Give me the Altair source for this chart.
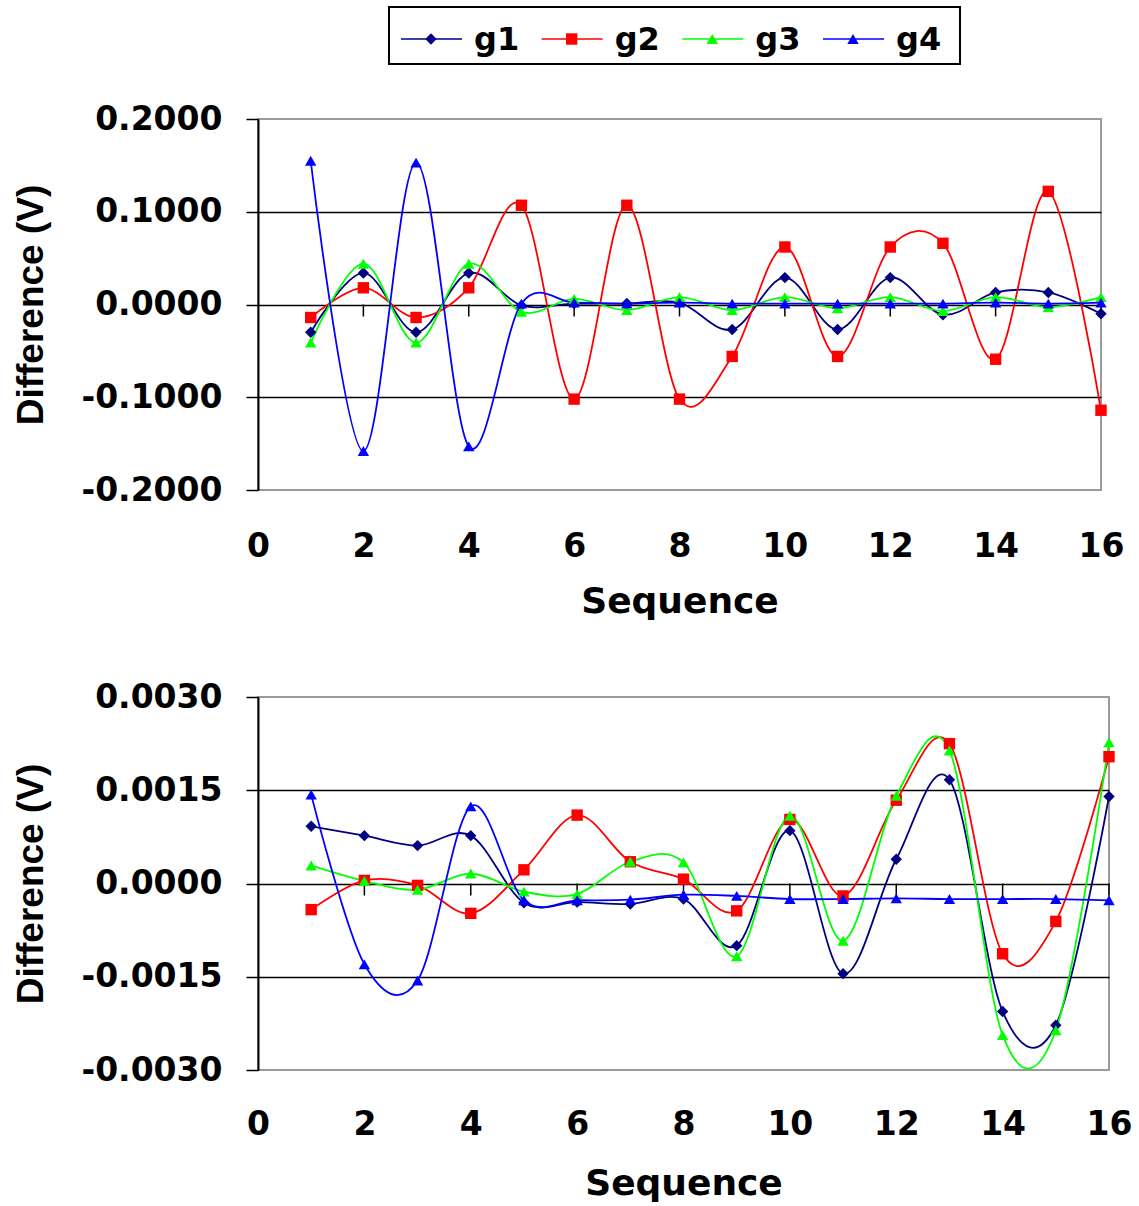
import altair as alt
import pandas as pd

# ---------------- data ----------------
series_names = ["g1", "g2", "g3", "g4"]
series_colors = ["#000080", "#FF0000", "#00FF00", "#0000FF"]
series_shapes = ["diamond", "square", "triangle-up", "triangle-up"]
marker_sizes = [210, 165, 290, 290]
legend_marker_sizes = [130, 130, 190, 190]

sequence = list(range(1, 17))
x_ticks = [0, 2, 4, 6, 8, 10, 12, 14, 16]

g1_top = [-0.030, 0.034, -0.030, 0.034, -0.001, 0.001, 0.001, 0.002,
          -0.027, 0.029, -0.027, 0.029, -0.011, 0.013, 0.013, -0.010]
g2_top = [-0.014, 0.018, -0.014, 0.018, 0.107, -0.102, 0.107, -0.102,
          -0.056, 0.062, -0.056, 0.062, 0.066, -0.059, 0.122, -0.114]
g3_top = [-0.041, 0.044, -0.041, 0.044, -0.008, 0.006, -0.006, 0.008,
          -0.006, 0.008, -0.004, 0.008, -0.007, 0.008, -0.003, 0.008]
g4_top = [0.155, -0.158, 0.153, -0.153, 0.001, 0.002, 0.001, 0.002,
          0.001, 0.001, 0.001, 0.001, 0.001, 0.002, 0.001, 0.002]

g1_bot = [0.00092, 0.00077, 0.00061, 0.00077, -0.00031, -0.00030, -0.00033, -0.00025,
          -0.00100, 0.00085, -0.00145, 0.00039, 0.00167, -0.00206, -0.00228, 0.00140]
g2_bot = [-0.00042, 0.00005, -0.00003, -0.00048, 0.00022, 0.00110, 0.00035, 0.00007,
          -0.00044, 0.00103, -0.00020, 0.00134, 0.00225, -0.00113, -0.00061, 0.00204]
g3_bot = [0.00029, 0.00004, -0.00010, 0.00016, -0.00013, -0.00017, 0.00035, 0.00034,
          -0.00117, 0.00109, -0.00092, 0.00141, 0.00214, -0.00244, -0.00236, 0.00227]
g4_bot = [0.00143, -0.00130, -0.00156, 0.00124, -0.00027, -0.00027, -0.00026, -0.00018,
          -0.00020, -0.00025, -0.00025, -0.00024, -0.00025, -0.00025, -0.00025, -0.00027]

top_y_ticks = [-0.2, -0.1, 0.0, 0.1, 0.2]
bot_y_ticks = [-0.003, -0.0015, 0.0, 0.0015, 0.003]


def long_df(cols):
    rows = []
    for name, vals in zip(series_names, cols):
        for xv, yv in zip(sequence, vals):
            rows.append({"x": xv, "value": yv, "series": name})
    return pd.DataFrame(rows)


top_df = long_df([g1_top, g2_top, g3_top, g4_top])
bot_df = long_df([g1_bot, g2_bot, g3_bot, g4_bot])
tick_df = pd.DataFrame({"x": x_ticks[1:], "value": [0.0] * (len(x_ticks) - 1)})

LABEL_FONT = "DejaVu Sans"
TITLE_FONT_Y = "Liberation Sans"

color_scale = alt.Scale(domain=series_names, range=series_colors)
shape_scale = alt.Scale(domain=series_names, range=series_shapes)


def panel(df, ydom, yvals, thr, width, height, x_label_pad, x_title_pad):
    x_enc = alt.X(
        "x:Q",
        scale=alt.Scale(domain=[0, 16], nice=False, zero=False),
        axis=alt.Axis(
            values=x_ticks, title="Sequence", grid=False, domain=False,
            ticks=False, tickSize=0, labelPadding=x_label_pad,
            labelFont=LABEL_FONT, labelFontWeight="bold", labelFontSize=33,
            labelColor="black", labelFlush=False,
            titleFont=LABEL_FONT, titleFontWeight="bold", titleFontSize=36,
            titleColor="black", titlePadding=x_title_pad,
        ),
    )
    y_enc = alt.Y(
        "value:Q",
        scale=alt.Scale(domain=ydom, nice=False, zero=False),
        axis=alt.Axis(
            values=yvals, title="Difference (V)",
            labelExpr="(datum.value < 0 ? '-' : '') + format(abs(datum.value), '.4f')",
            grid=True, gridColor="black", gridWidth=1.5,
            gridOpacity={"condition": {"test": f"abs(datum.value) > {thr}", "value": 0}, "value": 1},
            domain=True, domainColor="black", domainWidth=2,
            ticks=True, tickSize=12, tickColor="black", tickWidth=1.5,
            labelPadding=24, labelFont=LABEL_FONT, labelFontWeight="bold",
            labelFontSize=33, labelColor="black", labelFlush=False,
            titleFont=TITLE_FONT_Y, titleFontWeight="bold", titleFontSize=37,
            titleColor="black", titlePadding=30,
        ),
    )
    ticks = alt.Chart(tick_df).mark_rule(color="black", strokeWidth=1.5, y2Offset=12).encode(
        x=x_enc, y=y_enc, y2="value:Q"
    )
    lines = alt.Chart(df).mark_line(interpolate="cardinal", strokeWidth=1.8).encode(
        x=x_enc, y=y_enc,
        color=alt.Color("series:N", scale=color_scale, legend=None),
        detail="series:N",
    )
    points = alt.Chart(df).mark_point(filled=True, opacity=1).encode(
        x=x_enc, y=y_enc,
        color=alt.Color("series:N", scale=color_scale, legend=None),
        shape=alt.Shape("series:N", scale=shape_scale, legend=None),
        size=alt.Size("series:N", scale=alt.Scale(domain=series_names, range=marker_sizes), legend=None),
    )
    return alt.layer(ticks, lines, points).properties(width=width, height=height)


top = panel(top_df, [-0.2, 0.2], top_y_ticks, 0.15, 843, 371, 40, 21)
bottom = panel(bot_df, [-0.003, 0.003], bot_y_ticks, 0.0025, 851, 373, 38, 25)

# ---------------- legend ----------------
leg_df = pd.DataFrame({"series": series_names})
leg_x = alt.X("series:N", scale=alt.Scale(type="point", domain=series_names, range=[173, 595], padding=0), axis=None)
leg_color = alt.Color("series:N", scale=color_scale, legend=None)

box = alt.Chart(alt.Data(values=[{}])).mark_rect(fill="white", stroke="black", strokeWidth=2).encode(
    x=alt.value(131), x2=alt.value(702), y=alt.value(0), y2=alt.value(57)
)
leg_lines = alt.Chart(leg_df).mark_rule(strokeWidth=1.6, xOffset=-30, x2Offset=31).encode(
    x=leg_x, x2="series:N", y=alt.value(32), color=leg_color
)
leg_points = alt.Chart(leg_df).mark_point(filled=True, opacity=1).encode(
    x=leg_x, y=alt.value(32), color=leg_color,
    shape=alt.Shape("series:N", scale=shape_scale, legend=None),
    size=alt.Size("series:N", scale=alt.Scale(domain=series_names, range=legend_marker_sizes), legend=None),
)
leg_text = alt.Chart(leg_df).mark_text(
    align="left", baseline="alphabetic", dx=43, font=LABEL_FONT, fontWeight="bold",
    fontSize=32, color="black"
).encode(x=leg_x, y=alt.value(43), text="series:N")

legend = alt.layer(box, leg_lines, leg_points, leg_text).properties(
    width=705, height=57, view=alt.ViewBackground(stroke="transparent", strokeWidth=0)
)

chart = alt.vconcat(
    legend,
    alt.vconcat(top, bottom, spacing=60),
    spacing=37,
).properties(
    padding={"left": 11, "top": 6, "right": 0, "bottom": 0},
    background="white",
).configure_view(stroke="#9a9a9a", strokeWidth=2)

chart.save("out.html", embed_options={"renderer": "svg", "actions": False})
